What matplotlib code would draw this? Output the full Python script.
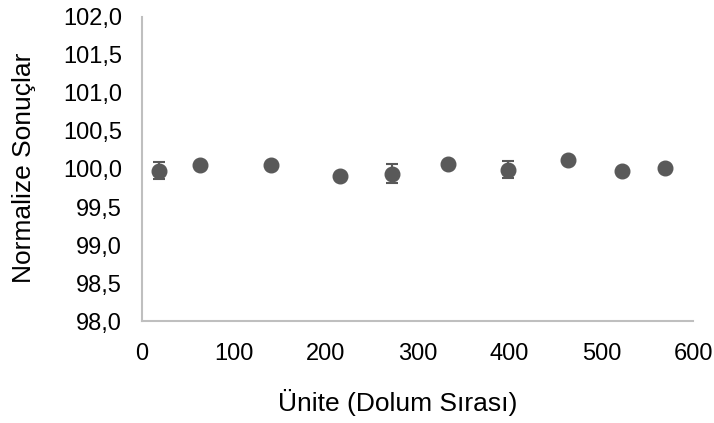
import matplotlib.pyplot as plt
from matplotlib.ticker import FuncFormatter

plt.rcParams['font.family'] = ['Liberation Sans', 'DejaVu Sans']

# Veriler
unite = [18, 63, 140, 215, 272, 333, 398, 464, 522, 569]
sonuc = [99.98, 100.05, 100.05, 99.91, 99.94, 100.06, 99.99, 100.12, 99.97, 100.01]
hata = [0.11, 0, 0, 0, 0.12, 0, 0.11, 0, 0, 0]

fig = plt.figure(figsize=(7.14, 4.23), dpi=100)
ax = fig.add_axes([0.199, 0.241, 0.772, 0.719])

ax.errorbar(unite, sonuc, yerr=hata, fmt='o', color='#595959', ecolor='#595959',
            markersize=10.5, elinewidth=1.5, capsize=4.5, capthick=1.5)

ax.set_xlim(0, 600)
ax.set_ylim(98, 102)
ax.set_xticks(range(0, 601, 100))
ax.set_yticks([98 + 0.5 * i for i in range(9)])
ax.yaxis.set_major_formatter(FuncFormatter(lambda v, p: f"{v:.1f}".replace('.', ',')))

for s in ['top', 'right']:
    ax.spines[s].set_visible(False)
for s in ['left', 'bottom']:
    ax.spines[s].set_color('#BFBFBF')
    ax.spines[s].set_linewidth(1.5)

ax.tick_params(length=0, labelsize=17, colors='black')
ax.tick_params(axis='y', pad=14.5)
ax.tick_params(axis='x', pad=16)

# Eksen başlıkları
fig.text(397.5 / 714, 1 - 402 / 423, "Ünite (Dolum Sırası)", fontsize=19,
         ha='center', va='center')
fig.text(24 / 714, 1 - 168 / 423, "Normalize Sonuçlar", fontsize=19,
         rotation=90, ha='center', va='center')

fig.savefig("out.png", dpi=100)
